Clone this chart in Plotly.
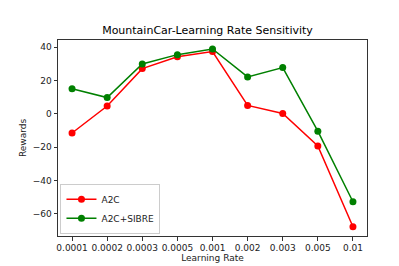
import plotly.graph_objects as go

learning_rates = ["0.0001", "0.0002", "0.0003", "0.0005", "0.001", "0.002", "0.003", "0.005", "0.01"]
a2c = [-11.5, 4.7, 27.2, 34.3, 37.5, 5.1, 0.2, -19.3, -67.8]
a2c_sibre = [15.1, 9.8, 30.0, 35.6, 39.0, 22.2, 27.8, -10.4, -52.8]
y_ticks = [-60, -40, -20, 0, 20, 40]

x_idx = list(range(len(learning_rates)))

fig = go.Figure()
fig.add_trace(go.Scatter(x=x_idx, y=a2c, mode="lines+markers", name="A2C",
                         line=dict(color="#ff0000", width=1.5),
                         marker=dict(color="#ff0000", size=7)))
fig.add_trace(go.Scatter(x=x_idx, y=a2c_sibre, mode="lines+markers", name="A2C+SIBRE",
                         line=dict(color="#008000", width=1.5),
                         marker=dict(color="#008000", size=7)))

font = "DejaVu Sans"
fig.update_layout(
    width=399, height=266,
    margin=dict(l=50, r=40, t=32, b=34),
    paper_bgcolor="white", plot_bgcolor="white",
    font=dict(family=font, size=9, color="#222"),
    title=dict(text="MountainCar-Learning Rate Sensitivity", x=0.5, xanchor="center",
               y=1 - 22/266, yanchor="middle", font=dict(size=11, color="#000")),
    showlegend=True,
    legend=dict(x=0.008, y=0.012, xanchor="left", yanchor="bottom",
                bgcolor="rgba(255,255,255,0.8)", bordercolor="#ccc", borderwidth=1,
                font=dict(size=9), itemwidth=30, tracegroupgap=0),
)
fig.update_xaxes(range=[-0.4, 8.4], tickmode="array", tickvals=x_idx, ticktext=learning_rates,
                 showgrid=False, zeroline=False, showline=True, linecolor="#333", linewidth=1,
                 mirror=True, ticks="outside", ticklen=3.5, tickcolor="#333",
                 title=dict(text="Learning Rate", standoff=2, font=dict(size=9)))
fig.update_yaxes(range=[-73.4, 44.4], tickmode="array", tickvals=y_ticks,
                 ticktext=["\u221260", "\u221240", "\u221220", "0", "20", "40"],
                 showgrid=False, zeroline=False, showline=True, linecolor="#333", linewidth=1,
                 mirror=True, ticks="outside", ticklen=3.5, tickcolor="#333",
                 title=dict(text="Rewards", standoff=4, font=dict(size=9)))

fig.write_html("out.html")
